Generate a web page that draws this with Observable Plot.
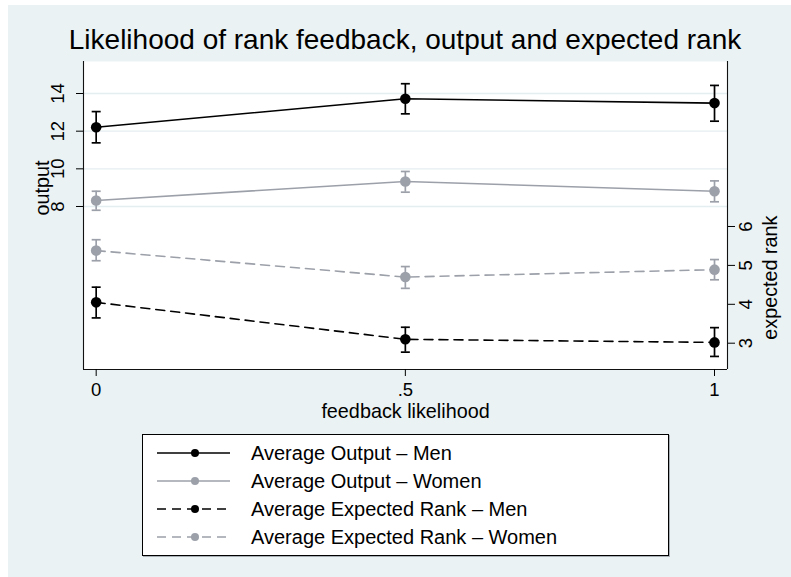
<!DOCTYPE html>
<html><head><meta charset="utf-8">
<script src="https://cdn.jsdelivr.net/npm/d3@7"></script>
<script src="https://cdn.jsdelivr.net/npm/@observablehq/plot@0.6"></script>
<style>
html,body{margin:0;padding:0;background:#fff;overflow:hidden;}
body{padding:5px 0 0 8px;font-family:"Liberation Sans",Arial,sans-serif;}
#fig{position:relative;width:783px;height:572px;background:#eaf2f3;overflow:hidden;}
#title{box-sizing:border-box;height:51px;padding:21px 0 0 11px;font-size:28px;line-height:28px;text-align:center;white-space:nowrap;color:#000;}
#chart svg{display:block;}
#legend{box-sizing:border-box;margin:8px 0 0 134px;width:527px;height:122px;border:1px solid #000;background:#fff;padding-top:4px;box-shadow:1px 1px 0 #a9b0b5;}
.row{height:28px;display:flex;align-items:center;font-size:20px;color:#000;white-space:nowrap;}
.row svg{margin-left:14px;margin-right:21px;flex:none;}
</style>
</head><body>
<div id="fig">
  <div id="title">Likelihood of rank feedback, output and expected rank</div>
  <div id="chart"></div>
  <div id="legend"></div>
</div>
<script>
// ---- data ----
const feedback = [0, 0.5, 1];
const xTickLabels = ["0", ".5", "1"];
const outputTicks = [8, 10, 12, 14];
const rankTicks = [3, 4, 5, 6];

const outputMen = [12.21, 13.72, 13.49];
const outputMenLo = [11.38, 12.92, 12.53];
const outputMenHi = [13.04, 14.52, 14.43];

const outputWomen = [8.32, 9.33, 8.81];
const outputWomenLo = [7.80, 8.76, 8.25];
const outputWomenHi = [8.81, 9.86, 9.36];

const rankMen = [4.05, 3.10, 3.02];
const rankMenLo = [3.65, 2.77, 2.66];
const rankMenHi = [4.44, 3.41, 3.40];

const rankWomen = [5.38, 4.70, 4.89];
const rankWomenLo = [5.12, 4.41, 4.63];
const rankWomenHi = [5.66, 4.97, 5.15];

const seriesNames = [
  "Average Output \u2013 Men",
  "Average Output \u2013 Women",
  "Average Expected Rank \u2013 Men",
  "Average Expected Rank \u2013 Women"
];

// ---- scales ----
const xDomain = [-0.0205, 1.021];
const yDomain = [-0.656, 15.70];        // output axis (left)
const rankDomain = [2.324, 10.241];     // expected rank axis (right)
const rankToOut = d3.scaleLinear().domain(rankDomain).range(yDomain);

const BLACK = "#000000", GREY = "#9ca0a9";
const series = [
  {name: seriesNames[0], v: outputMen, lo: outputMenLo, hi: outputMenHi, f: d => d, color: BLACK, dash: null},
  {name: seriesNames[1], v: outputWomen, lo: outputWomenLo, hi: outputWomenHi, f: d => d, color: GREY, dash: null},
  {name: seriesNames[2], v: rankMen, lo: rankMenLo, hi: rankMenHi, f: rankToOut, color: BLACK, dash: "9,6"},
  {name: seriesNames[3], v: rankWomen, lo: rankWomenLo, hi: rankWomenHi, f: rankToOut, color: GREY, dash: "9,6"}
];

const capSymbol = {draw(ctx) { ctx.moveTo(-4.5, 0); ctx.lineTo(4.5, 0); }};

const marks = [
  Plot.frame({fill: "white", stroke: null}),
  Plot.ruleY(outputTicks, {stroke: "#e4edf0", strokeWidth: 1.4})
];
for (const s of series) {
  const rows = feedback.map((x, i) => ({x, y: s.f(s.v[i]), lo: s.f(s.lo[i]), hi: s.f(s.hi[i])}));
  marks.push(
    Plot.line(rows, {x: "x", y: "y", stroke: s.color, strokeWidth: 1.6, strokeDasharray: s.dash}),
    Plot.ruleX(rows, {x: "x", y1: "lo", y2: "hi", stroke: s.color, strokeWidth: 1.7}),
    Plot.dot(rows, {x: "x", y: "lo", symbol: capSymbol, fill: "none", stroke: s.color, strokeWidth: 1.7}),
    Plot.dot(rows, {x: "x", y: "hi", symbol: capSymbol, fill: "none", stroke: s.color, strokeWidth: 1.7}),
    Plot.dot(rows, {x: "x", y: "y", r: 5.3, fill: s.color, stroke: null})
  );
}
marks.push(
  Plot.ruleX(xDomain, {stroke: "#111", strokeWidth: 1.1}),
  Plot.ruleY([yDomain[0]], {stroke: "#111", strokeWidth: 1.1}),
  Plot.axisY(outputTicks, {anchor: "left", tickSize: 7, tickPadding: 13, tickRotate: -90, fontSize: 18.5, label: null, tickFormat: d => String(d)}),
  Plot.axisY(rankTicks.map(r => rankToOut(r)), {anchor: "right", tickSize: 7, tickPadding: 17, tickRotate: -90, fontSize: 18.5, label: null,
    tickFormat: d => String(Math.round(rankToOut.invert(d)))}),
  Plot.axisX(feedback, {anchor: "bottom", tickSize: 7, tickPadding: 6, fontSize: 18.5, label: null,
    tickFormat: d => xTickLabels[feedback.indexOf(d)]}),
  Plot.text(["output"], {text: d => d, frameAnchor: "left", dx: -35, rotate: -90, lineAnchor: "bottom", fontSize: 19.8}),
  Plot.text(["expected rank"], {text: d => d, frameAnchor: "right", dx: 49, rotate: -90, lineAnchor: "bottom", fontSize: 19.8}),
  Plot.text(["feedback likelihood"], {text: d => d, frameAnchor: "bottom", dy: 34, lineAnchor: "top", fontSize: 19.8})
);

const chart = Plot.plot({
  width: 783, height: 370,
  marginLeft: 75, marginRight: 64, marginTop: 5, marginBottom: 57,
  x: {domain: xDomain, axis: null},
  y: {domain: yDomain, axis: null},
  style: {background: "transparent", fontFamily: "Liberation Sans, Arial, sans-serif", fontSize: "18px", overflow: "visible", color: "#000"},
  marks
});
document.getElementById("chart").appendChild(chart);

// ---- legend ----
const legend = document.getElementById("legend");
for (const s of series) {
  const row = document.createElement("div");
  row.className = "row";
  const dash = s.dash ? ` stroke-dasharray="9,6"` : "";
  row.innerHTML = `<svg width="73" height="12"><line x1="0" y1="6" x2="73" y2="6" stroke="${s.color}" stroke-width="1.6"${dash}/><circle cx="38" cy="6" r="4" fill="${s.color}"/></svg><span>${s.name}</span>`;
  legend.appendChild(row);
}
</script>
</body></html>
